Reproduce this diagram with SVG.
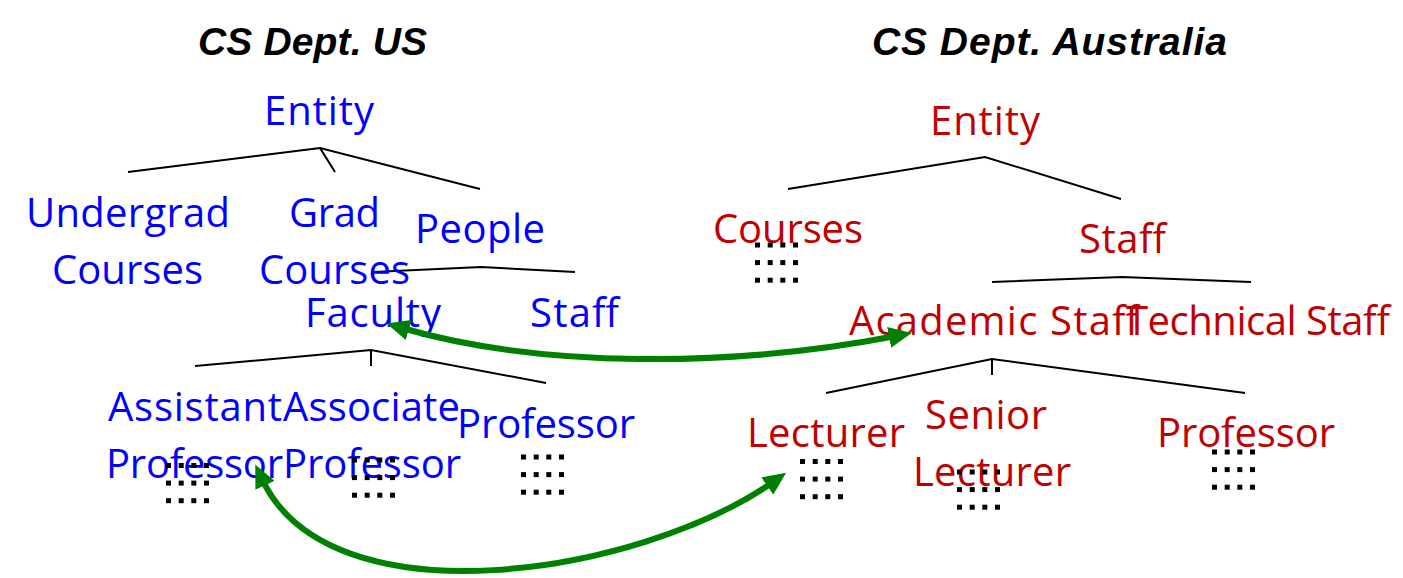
<svg xmlns="http://www.w3.org/2000/svg" xmlns:xlink="http://www.w3.org/1999/xlink" width="1403" height="578" viewBox="0 0 1403 578">
<style>
  .title { font-family: "Liberation Sans", Arial, sans-serif; font-size: 39px; font-weight: bold; font-style: italic; fill: #000; }
  .lbl { font-family: "Open Sans", "Liberation Sans", Arial, sans-serif; font-size: 40px; }
  .us { fill: #0000FF; }
  .au { fill: #C00000; }
  .edge { stroke: #000; stroke-width: 2; fill: none; }
  .map { stroke: #008000; stroke-width: 6; fill: none; marker-start: url(#ah); marker-end: url(#ah); }
  .dot { fill: #000; }
</style>
<defs>
  <marker id="ah" markerUnits="userSpaceOnUse" markerWidth="24" markerHeight="21" refX="7" refY="10.5" orient="auto-start-reverse" viewBox="0 0 24 21">
    <path d="M0,0 L23,10.5 L0,21 z" fill="#008000"/>
  </marker>
  <g id="dots">
    <rect class="dot" x="0" y="0" width="5" height="5"/><rect class="dot" x="12.7" y="0" width="5" height="5"/><rect class="dot" x="25.3" y="0" width="5" height="5"/><rect class="dot" x="38" y="0" width="5" height="5"/>
    <rect class="dot" x="0" y="17.6" width="5" height="5"/><rect class="dot" x="12.7" y="17.6" width="5" height="5"/><rect class="dot" x="25.3" y="17.6" width="5" height="5"/><rect class="dot" x="38" y="17.6" width="5" height="5"/>
    <rect class="dot" x="0" y="35.2" width="5" height="5"/><rect class="dot" x="12.7" y="35.2" width="5" height="5"/><rect class="dot" x="25.3" y="35.2" width="5" height="5"/><rect class="dot" x="38" y="35.2" width="5" height="5"/>
  </g>
</defs>
<rect width="1403" height="578" fill="#fff"/>

<g id="titles">
  <text id="title-us" class="title" x="198" y="55" textLength="229">CS Dept. US</text>
  <text id="title-au" class="title" x="872" y="55" textLength="355">CS Dept. Australia</text>
</g>

<g id="tree-edges">
  <polyline class="edge" points="128,172 320,148 480,189"/>
  <line class="edge" x1="320" y1="148" x2="335" y2="172"/>
  <polyline class="edge" points="373,272 481,267 575,272"/>
  <polyline class="edge" points="195,366 371,350 546,383"/>
  <line class="edge" x1="371" y1="350" x2="371" y2="366"/>
  <polyline class="edge" points="788,189 985,157 1121,199"/>
  <polyline class="edge" points="992,282 1122,277 1251,282"/>
  <polyline class="edge" points="826,393 992,359 1245,393"/>
  <line class="edge" x1="992" y1="359" x2="992" y2="375"/>
</g>

<g id="us-entity"><text class="lbl us" x="264" y="125" textLength="110">Entity</text></g>
<g id="us-undergrad"><text class="lbl us" x="26" y="227" textLength="204">Undergrad</text><text class="lbl us" x="52" y="284" textLength="151">Courses</text></g>
<g id="us-grad"><text class="lbl us" x="289" y="227" textLength="91">Grad</text><text class="lbl us" x="259" y="284" textLength="151">Courses</text></g>
<g id="us-people"><text class="lbl us" x="415" y="243" textLength="130">People</text></g>
<g id="us-faculty"><text class="lbl us" x="305" y="327" textLength="136">Faculty</text></g>
<g id="us-staff"><text class="lbl us" x="530" y="327" textLength="89">Staff</text></g>
<g id="us-assistant"><text class="lbl us" x="108" y="421" textLength="174">Assistant</text><text class="lbl us" x="106" y="478" textLength="177">Professor</text><use xlink:href="#dots" x="166" y="463"/></g>
<g id="us-associate"><text class="lbl us" x="283" y="421" textLength="177">Associate</text><text class="lbl us" x="283" y="478" textLength="178">Professor</text><use xlink:href="#dots" x="352" y="457.5"/></g>
<g id="us-professor"><text class="lbl us" x="457" y="438" textLength="178">Professor</text><use xlink:href="#dots" x="521" y="454.5"/></g>

<g id="au-entity"><text class="lbl au" x="930" y="135" textLength="110">Entity</text></g>
<g id="au-courses"><text class="lbl au" x="713" y="243" textLength="150">Courses</text><use xlink:href="#dots" x="755" y="242.5"/></g>
<g id="au-staff"><text class="lbl au" x="1079" y="253" textLength="87">Staff</text></g>
<g id="au-academic"><text class="lbl au" x="849" y="335" textLength="290">Academic Staff</text></g>
<g id="au-technical"><text class="lbl au" x="1126" y="335" textLength="264">Technical Staff</text></g>
<g id="au-lecturer"><text class="lbl au" x="747" y="447" textLength="158">Lecturer</text><use xlink:href="#dots" x="800" y="459"/></g>
<g id="au-senior"><text class="lbl au" x="925" y="429" textLength="122">Senior</text><text class="lbl au" x="913" y="486" textLength="158">Lecturer</text><use xlink:href="#dots" x="957" y="469.5"/></g>
<g id="au-professor"><text class="lbl au" x="1157" y="447" textLength="178">Professor</text><use xlink:href="#dots" x="1212" y="449.5"/></g>

<g id="mappings">
  <path class="map" d="M402,328 C540,368 730,368 896,336"/>
  <path class="map" d="M262,479 C330,625 640,575 773,482"/>
</g>
</svg>
